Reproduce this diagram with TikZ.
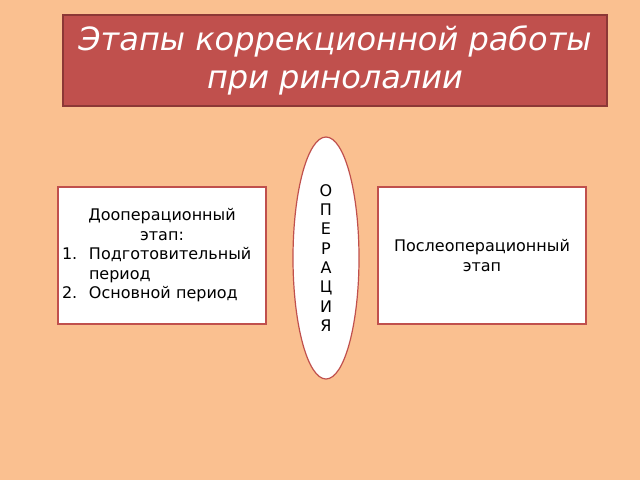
\documentclass[tikz,border=0pt]{standalone}
\usepackage{fontspec}
\setmainfont{DejaVu Sans}
\usetikzlibrary{shapes.geometric}
\definecolor{peach}{HTML}{FAC090}
\definecolor{titlered}{HTML}{C0504D}
\definecolor{titleedge}{HTML}{8C3836}
\begin{document}
\begin{tikzpicture}[
    x=1pt, y=1pt,
    title/.style={rectangle, draw=titleedge, line width=1.5pt, fill=titlered, text=white,
        minimum width=544pt, minimum height=91pt, align=center,
        font=\fontsize{32}{38}\selectfont\itshape},
    stagebox/.style={rectangle, draw=titlered, line width=1.2pt, fill=white,
        minimum width=208pt, minimum height=137pt, inner sep=4pt,
        font=\fontsize{16}{19.5}\selectfont},
    opshape/.style={ellipse, draw=titlered, line width=1.2pt, fill=white,
        minimum width=66pt, minimum height=242pt, inner sep=0pt, align=center,
        font=\fontsize{16}{19.3}\selectfont}
]
% Background
\fill[peach] (0,0) rectangle (640,-480);
\useasboundingbox (0,0) rectangle (640,-480);

% Title
\node[title] (head) at (335,-60.5) {Этапы коррекционной работы\\при ринолалии};

% Stages
\node[stagebox, text width=200pt, align=left] (pre) at (162,-255.5)
    {\centering Дооперационный\\этап:\par
     \raggedright
     \makebox[27pt][l]{1.}Подготовительный\\\hspace*{27pt}период\\
     \makebox[27pt][l]{2.}Основной период\par};
\node[opshape] (op) at (326,-258) {О\\П\\Е\\Р\\А\\Ц\\И\\Я};
\node[stagebox, align=center] (post) at (482,-255.5) {Послеоперационный\\этап};

\end{tikzpicture}
\end{document}
